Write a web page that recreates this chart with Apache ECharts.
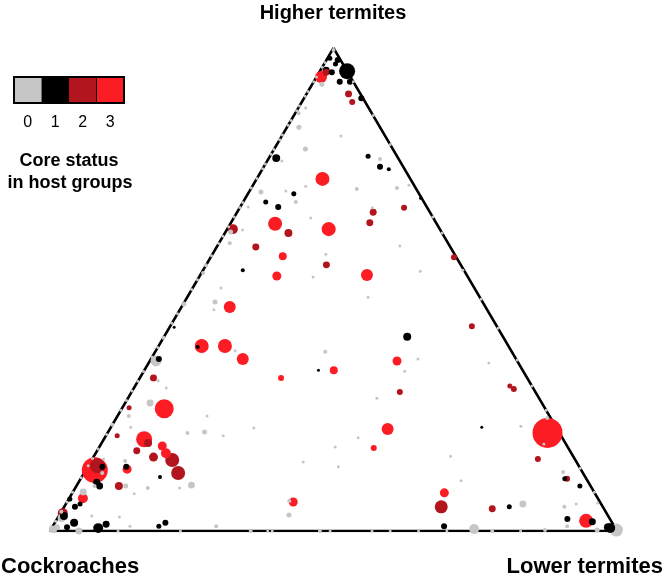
<!DOCTYPE html>
<html>
<head>
<meta charset="utf-8">
<script src="https://cdn.jsdelivr.net/npm/echarts@6/dist/echarts.min.js"></script>
<style>html,body{margin:0;padding:0;background:#fff}#c{width:666px;height:585px}</style>
</head>
<body>
<div id="c"></div>
<script>
// Ternary composition of each OTU: [higher termites %, lower termites %, relative abundance]
// cockroaches % = 100 - higher - lower
const statusLabels = ['0', '1', '2', '3'];
const cornerLabels = { top: 'Higher termites', left: 'Cockroaches', right: 'Lower termites' };
const legendTitle = ['Core status', 'in host groups'];

const status0 = [
  [99.6,0.2,1.8],[92.5,1.7,2.8],[87.6,1.3,1],[86.5,0.6,1.8],[83.6,2.1,2.8],[79.1,5.5,2.8],
  [81.8,10.4,1],[76.6,2.6,1],[77.0,19.7,1.8],[71.4,9.4,1],[70.2,2.1,2.8],[70.4,6.4,1],
  [68.1,9.3,1.8],[67.1,1.4,1],[64.8,13.6,1],[61.9,0.9,2.8],[62.3,2.8,1],[59.6,1.9,1.8],
  [57.3,20.0,1],[52.6,20.1,1],[53.4,0.3,1.8],[50.3,5.0,1],[70.8,18.7,1.8],[71.0,25.7,1.8],
  [71.6,27.5,1],[66.9,23.4,1],[59.0,32.2,1],[53.8,38.4,1],[48.4,31.9,1],[47.4,5.4,2.8],
  [45.8,6.0,1],[37.3,14.0,1],[37.1,30.0,1.8],[35.2,1.1,13.4],[31.1,3.5,1],[29.6,5.7,1],
  [47.0,0.1,2.8],[35.6,47.1,1],[33.1,46.0,1],[34.8,60.0,1],[27.5,43.9,1],[21.3,25.3,1],
  [19.3,44.7,1],[17.4,41.6,1],[21.7,72.2,1],[35.4,64.7,1],[61.7,38.3,1],[54.0,45.8,1],
  [23.4,76.0,1.8],[18.0,78.1,1],[12.2,84.4,1.8],[15.5,62.9,1],[10.4,67.3,1],[5.6,80.6,5.4],
  [5.0,88.2,1.8],[5.6,90.0,1],[5.8,93.7,1],[1.0,90.7,1.8],[0.2,99.8,18.8],[0.4,74.6,11],
  [0,78.0,1.8],[0.2,87.2,1.8],[0.2,96.4,2.8],[14.3,37.5,1],[13.3,44.2,1],[6.2,39.1,1.8],
  [3.3,40.5,2.8],[0,35.4,1.8],[0,38.4,1],[0,39.2,1],[0,47.6,1.8],[0,49.4,1],[0,56.8,1],
  [26.5,4.4,5.4],[23.8,2.0,1.8],[21.5,3.5,1],[20.3,14.1,1.8],[20.5,17.0,2.8],[19.7,20.7,1],
  [23.8,15.8,1],[9.5,20.2,5.4],[8.9,12.8,1.8],[9.3,8.7,2.8],[8.9,18.4,1],[7.7,11.0,1],
  [12.0,3.2,1.8],[9.3,3.2,1.8],[14.5,6.0,1.8],[14.9,2.0,1],[8.1,1.8,5.4],[2.7,0.7,7.1],
  [0.8,0.8,4],[0.2,0.6,4],[0.4,0.2,5.4],[0,5.1,5.4],[2.9,10.8,1],[3.1,5.8,1],[1.0,13.6,1],[1.0,28.8,1.8],
  // on the cockroach / higher termite edge
  [2,0,1],[4,0,1.8],[6,0,1],[8,0,1],[11,0,1],[13.5,0,1],[15,0,1],[17,0,1],[20,0,1],[22,0,1.8],
  [25,0,1],[27,0,1],[29,0,1],[31,0,1],[33,0,1],[36,0,1],[38,0,1],[40,0,1.8],[43,0,1],[45,0,1],
  [47,0,1],[50,0,1],[52,0,1],[55,0,1.8],[57,0,1],[59.5,0,1],[61,0,1],[63,0,1],[65,0,1],[67,0,1],
  [68,0,1],[71,0,1],[73,0,1],[75,0,1],[76,0,1],[78,0,1],[79,0,1],[81,0,1],[82,0,1],[84,0,1],
  [85,0,1],[87,0,1],[88,0,1],[90,0,1],[91,0,1],[93,0,1],[94,0,1],[96,0,1],[97,0,1],
  // on the higher / lower termite edge
  [93,7,1],[86,14,1],[80,20,1],[65,35,1],[48,52,1],[42,58,1],[30,70,1],[25,75,1],[13,87,1],[8,92,1],
  // on the cockroach / lower termite edge
  [0,12,1],[0,23,1],[0,60,1],[0,65,1],[0,70,1],[0,83,1]
];

const status1 = [
  [95.4,1.0,5.4],[95.0,2.2,4],[96.7,2.0,2.8],[97.5,2.0,4],[95.2,4.8,28.4],[93.0,4.6,4],
  [93.0,6.4,4],[94.4,4.7,4],[89.6,10.1,4],[97.9,0.4,2.8],[77.2,1.3,7.1],[77.6,17.3,2.8],
  [75.4,20.5,4],[74.9,22.3,1.8],[69.8,8.1,2.8],[68.1,4.0,2.8],[67.1,6.7,4],[54.0,7.0,1.8],
  [68.9,30.9,1],[42.2,0.8,1],[38.1,7.0,1.8],[33.3,30.7,1],[35.6,1.4,4],[40.2,42.9,7.1],
  [21.5,65.4,1],[10.8,85.4,2.8],[9.3,88.8,2.8],[5.0,78.5,2.8],[2.5,90.0,4],[1.9,94.7,5.4],
  [0.6,98.5,11],[0.8,98.0,7.1],[1.0,69.0,4],[11.2,13.8,1.8],[13.3,2.6,4],[10.1,3.2,5.4],
  [9.3,4.1,5.4],[13.3,6.8,4],[5.6,2.5,2.8],[5.0,1.9,4],[6.6,0.2,2.8],[3.1,0.9,7.1],
  [1.7,3.4,7.1],[0.8,2.6,4],[0.6,8.2,11],[1.4,9.2,5.4],[1.0,18.7,2.8],[1.7,19.5,4]
];

const status2 = [
  [95.0,1.2,5.4],[90.5,7.4,5.4],[88.8,8.9,4],[61.7,11.2,7.1],[62.5,1.0,11],[58.8,6.9,5.4],
  [55.1,21.2,5.4],[66.9,29.0,4],[66.0,24.0,5.4],[63.8,24.5,5.4],[56.7,42.9,4],[31.7,2.4,5.4],
  [42.4,53.2,4],[28.8,47.3,4],[30.0,66.1,2.8],[29.4,67.1,4],[14.9,78.6,4],[10.8,85.8,4],
  [4.6,75.7,5.4],[5.0,66.5,18.8],[25.5,1.2,2.8],[19.7,2.0,2.8],[18.2,8.2,7.1],[16.6,7.0,5.4],
  [15.3,10.6,9],[14.7,14.2,21.8],[12.0,16.6,21.8],[9.3,7.5,7.1],[13.5,1.6,25],[3.7,0.4,11]
];

const status3 = [
  [94.0,0.8,16],[72.9,11.6,21.8],[63.6,7.9,21.8],[62.5,17.9,21.8],[56.9,12.6,7.1],[52.8,13.6,9],
  [53.0,29.4,16],[46.4,8.5,16],[38.3,7.6,21.8],[38.3,11.7,21.8],[35.6,16.2,16],[33.3,33.4,7.1],
  [31.7,24.9,4],[35.2,43.6,9],[21.1,49.0,16],[20.3,77.6,100],[17.2,48.5,4],[2.1,93.5,21.8],
  [6.0,39.9,9],[7.9,65.6,9],[25.3,7.5,40],[19.0,7.1,28.4],[17.6,11.0,9],[16.1,12.4,11],
  [12.6,1.6,75],[12.8,7.2,9],[6.8,2.4,11]
];

const statusColors = ['#c6c6c6', '#000000', '#b2151d', '#fc1c23'];
const FONT = "'Liberation Sans', Arial, Helvetica, sans-serif";

// ternary -> cartesian (x along base, y = higher termites fraction)
function toXY(h, l) { return [l + h / 2, h]; }

const all = [];
[status0, status1, status2, status3].forEach((arr, s) => {
  arr.forEach(p => { const xy = toXY(p[0], p[1]); all.push([xy[0], xy[1], p[2], s]); });
});
all.sort((a, b) => b[2] - a[2]);

const triangle = [toXY(100, 0), toXY(0, 0), toXY(0, 100), toXY(100, 0)];

const chart = echarts.init(document.getElementById('c'), null, { renderer: 'canvas' });

const legendX = 14, legendY = 77, cellW = 27.5, cellH = 26;
const graphics = [];
statusColors.forEach((c, i) => {
  graphics.push({ type: 'rect', shape: { x: legendX + i * cellW, y: legendY, width: cellW, height: cellH }, style: { fill: c } });
  graphics.push({ type: 'text', x: legendX + i * cellW + cellW / 2, y: legendY + cellH + 20,
    style: { text: statusLabels[i], font: '16px ' + FONT, fill: '#000', align: 'center', verticalAlign: 'middle', textAlign: 'center', textVerticalAlign: 'middle' } });
});
graphics.push({ type: 'line', shape: { x1: legendX + 3 * cellW, y1: legendY, x2: legendX + 3 * cellW, y2: legendY + cellH }, style: { stroke: '#000', lineWidth: 1 } });
graphics.push({ type: 'rect', shape: { x: legendX, y: legendY, width: 4 * cellW, height: cellH }, style: { fill: 'none', stroke: '#000', lineWidth: 2 } });
graphics.push({ type: 'text', x: 69, y: 161, style: { text: legendTitle[0], font: 'bold 18px ' + FONT, fill: '#000', align: 'center', verticalAlign: 'middle', textAlign: 'center', textVerticalAlign: 'middle' } });
graphics.push({ type: 'text', x: 70, y: 183, style: { text: legendTitle[1], font: 'bold 18px ' + FONT, fill: '#000', align: 'center', verticalAlign: 'middle', textAlign: 'center', textVerticalAlign: 'middle' } });
graphics.push({ type: 'text', x: 333, y: 13, style: { text: cornerLabels.top, font: 'bold 20px ' + FONT, fill: '#000', align: 'center', verticalAlign: 'middle', textAlign: 'center', textVerticalAlign: 'middle' } });
graphics.push({ type: 'text', x: 1, y: 567, style: { text: cornerLabels.left, font: 'bold 22px ' + FONT, fill: '#000', align: 'left', verticalAlign: 'middle', textAlign: 'left', textVerticalAlign: 'middle' } });
graphics.push({ type: 'text', x: 663, y: 567, style: { text: cornerLabels.right, font: 'bold 22px ' + FONT, fill: '#000', align: 'right', verticalAlign: 'middle', textAlign: 'right', textVerticalAlign: 'middle' } });

chart.setOption({
  animation: false,
  backgroundColor: '#fff',
  grid: { left: 50, right: 49, top: 48, bottom: 54 },
  xAxis: { type: 'value', min: 0, max: 100, show: false },
  yAxis: { type: 'value', min: 0, max: 100, show: false },
  graphic: graphics,
  series: [
    {
      type: 'line', data: triangle, symbol: 'none', z: 1, silent: true,
      lineStyle: { color: '#000', width: 2.5 }
    },
    {
      type: 'scatter', data: all, z: 2, silent: true,
      symbolSize: d => 3 * Math.sqrt(d[2]),
      itemStyle: { color: p => statusColors[p.data[3]], opacity: 1 }
    }
  ]
});
</script>
</body>
</html>
